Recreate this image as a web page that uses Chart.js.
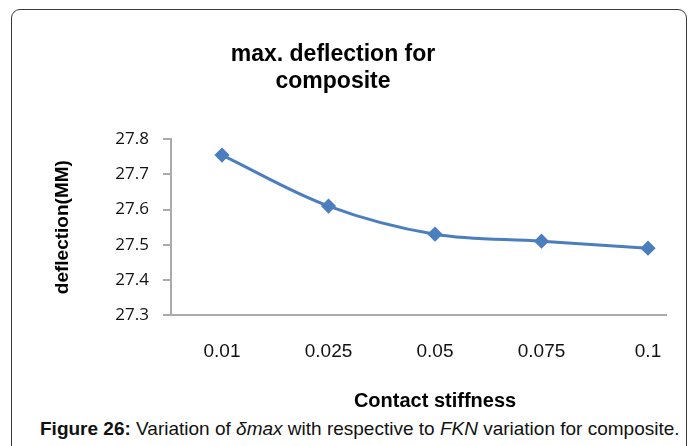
<!DOCTYPE html>
<html>
<head>
<meta charset="utf-8">
<script src="https://cdn.jsdelivr.net/npm/chart.js@4/dist/chart.umd.min.js"></script>
<style>
  html, body { margin: 0; padding: 0; background: #fff; }
  #wrap { position: relative; width: 696px; height: 446px; overflow: hidden; }
  #frame { position: absolute; left: 11px; top: 9px; width: 676px; height: 470px;
           border: 1.6px solid #3a3a3a; border-radius: 9px; box-sizing: border-box; }
  canvas { position: absolute; left: 0; top: 0; }
  #caption { position: absolute; left: 38px; top: 418px; font-family: "Liberation Sans", Arial, sans-serif;
             font-size: 19px; color: #111; white-space: nowrap; background: #fff; padding: 0 2px; }
</style>
</head>
<body>
<div id="wrap">
  <div id="frame"></div>
  <canvas id="c" width="696" height="446"></canvas>
  <div id="caption"><b>Figure 26:</b> Variation of <i>δmax</i> with respective to <i>FKN</i> variation for composite.</div>
</div>
<script>
const titleLines = ['max. deflection for', 'composite'];
const xAxisTitle = 'Contact stiffness';
const yAxisTitle = 'deflection(MM)';
const categories = ['0.01', '0.025', '0.05', '0.075', '0.1'];
const deflection = [27.755, 27.61, 27.53, 27.51, 27.49];
const yTicks = [27.3, 27.4, 27.5, 27.6, 27.7, 27.8];

const lineColor = '#4a7ebf';
const axisColor = '#ababab';

const xTitlePlugin = {
  id: 'xTitlePlugin',
  afterDraw(chart) {
    const ctx = chart.ctx;
    ctx.save();
    ctx.font = 'bold 20px "Liberation Sans", Arial, sans-serif';
    ctx.fillStyle = '#000';
    ctx.textAlign = 'center';
    ctx.textBaseline = 'middle';
    ctx.fillText(xAxisTitle, 435, 401);
    ctx.restore();
  }
};

new Chart(document.getElementById('c'), {
  type: 'line',
  data: {
    datasets: [{
      data: deflection.map((v, i) => ({ x: i, y: v })),
      borderColor: lineColor,
      backgroundColor: lineColor,
      borderWidth: 3,
      tension: 0.35,
      pointStyle: 'rectRot',
      pointRadius: 5.5,
      pointHoverRadius: 5.5,
      pointBackgroundColor: lineColor,
      pointBorderColor: lineColor,
      fill: false
    }]
  },
  options: {
    responsive: false,
    animation: false,
    events: [],
    layout: { padding: { left: 0, right: 30, top: 0, bottom: 31 } },
    plugins: {
      legend: { display: false },
      tooltip: { enabled: false },
      title: {
        display: true,
        text: titleLines,
        color: '#000',
        font: { family: '"Liberation Sans", Arial, sans-serif', size: 23, weight: 'bold', lineHeight: 1.18 },
        padding: { top: 41, bottom: 44 }
      }
    },
    scales: {
      x: {
        type: 'linear',
        min: -0.479,
        max: 4.169,
        afterBuildTicks(s) { s.ticks = categories.map((c, i) => ({ value: i })); },
        afterFit(s) { s.height = 100; },
        ticks: {
          callback: (v) => categories[v],
          color: '#111',
          padding: 25,
          maxRotation: 0,
          autoSkip: false,
          font: { family: '"Liberation Sans", Arial, sans-serif', size: 19 }
        },
        grid: { display: false, drawTicks: false },
        border: { display: true, color: axisColor, width: 2 }
      },
      y: {
        min: 27.3,
        max: 27.8,
        afterBuildTicks(s) { s.ticks = yTicks.map(v => ({ value: v })); },
        afterFit(s) { s.width = 171; },
        ticks: {
          callback: (v) => v.toFixed(1),
          color: '#111',
          padding: 14,
          font: { family: '"Open Sans", sans-serif', size: 17 }
        },
        grid: { drawOnChartArea: false, drawTicks: true, tickLength: 8, color: axisColor, lineWidth: 2 },
        border: { display: true, color: axisColor, width: 2 },
        title: {
          display: true,
          text: yAxisTitle,
          color: '#000',
          padding: { top: 51, bottom: 0 },
          font: { family: '"Liberation Sans", Arial, sans-serif', size: 19, weight: 'bold' }
        }
      }
    }
  },
  plugins: [xTitlePlugin]
});
</script>
</body>
</html>
